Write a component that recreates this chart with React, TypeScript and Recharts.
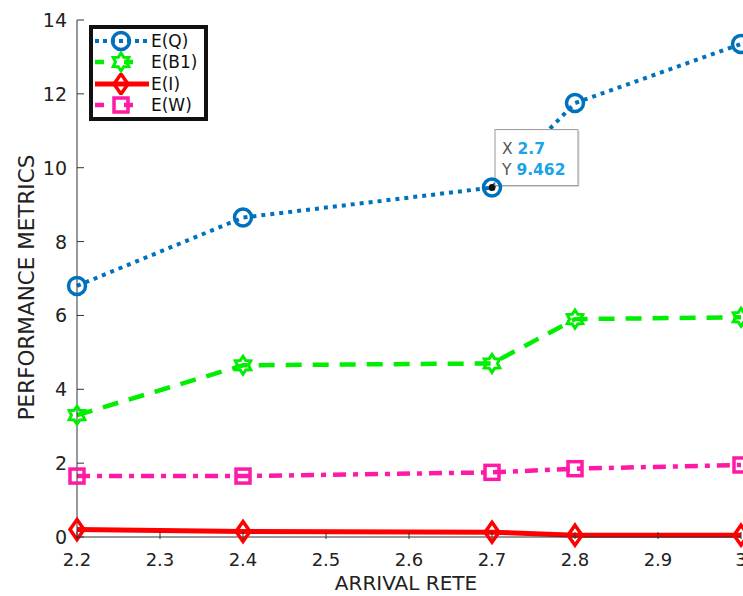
import React from "react";
import { LineChart, Line, XAxis, YAxis, Legend, ReferenceDot } from "recharts";

const xValues = [2.2, 2.4, 2.7, 2.8, 3.0];
const eQ = [6.8, 8.65, 9.462, 11.75, 13.35];
const eB1 = [3.3, 4.65, 4.7, 5.9, 5.95];
const eI = [0.2, 0.15, 0.13, 0.05, 0.05];
const eW = [1.65, 1.65, 1.75, 1.85, 1.95];
const xTicks = [2.2, 2.3, 2.4, 2.5, 2.6, 2.7, 2.8, 2.9, 3.0];
const yTicks = [0, 2, 4, 6, 8, 10, 12, 14];
const tipX = 2.7;
const tipY = 9.462;
const xTitle = "ARRIVAL RETE";
const yTitle = "PERFORMANCE METRICS";

const data = xValues.map((x, i) => ({ x, q: eQ[i], b1: eB1[i], i: eI[i], w: eW[i] }));

const FONT = "DejaVu Sans";
const BLUE = "#0072BD";
const GREEN = "#00EE00";
const RED = "#FF0000";
const PINK = "#FF1AA6";

type MarkerKind = "circle" | "hex" | "diamond" | "square";

function Marker({ kind, cx, cy, color }: { kind: MarkerKind; cx: number; cy: number; color: string }) {
  if (cx == null || cy == null) return null;
  const sw = 3.5;
  if (kind === "circle") return <circle cx={cx} cy={cy} r={8.5} fill="none" stroke={color} strokeWidth={sw} />;
  if (kind === "diamond") {
    const d = `M${cx},${cy - 10} L${cx + 7},${cy} L${cx},${cy + 10} L${cx - 7},${cy} Z`;
    return <path d={d} fill="none" stroke={color} strokeWidth={sw} />;
  }
  if (kind === "square") return <rect x={cx - 7} y={cy - 7} width={14} height={14} fill="none" stroke={color} strokeWidth={sw} />;
  const pts: string[] = [];
  for (let k = 0; k < 12; k++) {
    const ang = (Math.PI / 6) * k - Math.PI / 2;
    const r = k % 2 === 0 ? 9 : 5.5;
    pts.push(`${cx + r * Math.cos(ang)},${cy + r * Math.sin(ang)}`);
  }
  return <polygon points={pts.join(" ")} fill="none" stroke={color} strokeWidth={3} />;
}

const series = [
  { key: "q", name: "E(Q)", color: BLUE, dash: "4 5", kind: "circle" as MarkerKind, width: 4 },
  { key: "b1", name: "E(B1)", color: GREEN, dash: "16 11", kind: "hex" as MarkerKind, width: 4.5 },
  { key: "i", name: "E(I)", color: RED, dash: undefined, kind: "diamond" as MarkerKind, width: 5 },
  { key: "w", name: "E(W)", color: PINK, dash: "13 7 5 7", kind: "square" as MarkerKind, width: 4.5 },
];

function LegendBox() {
  return (
    <div
      style={{
        border: "4px solid #111",
        background: "#fff",
        width: 119,
        padding: "1px 0 1px 0",
        fontFamily: FONT,
        fontSize: 17,
        color: "#111",
        boxSizing: "border-box",
      }}
    >
      {series.map((s) => (
        <div key={s.key} style={{ display: "flex", alignItems: "center", height: 21.5 }}>
          <svg width={58} height={22} style={{ flex: "none" }}>
            <line x1={2} x2={56} y1={11} y2={11} stroke={s.color} strokeWidth={s.width} strokeDasharray={s.dash ? (s.kind === "circle" ? "4 4" : "9 20") : undefined} />
            <Marker kind={s.kind} cx={28} cy={11} color={s.color} />
          </svg>
          <span style={{ marginLeft: 0 }}>{s.name}</span>
        </div>
      ))}
    </div>
  );
}

function YTick(props: any) {
  const { x, y, payload } = props;
  const px = x + 10;
  return (
    <g>
      <line x1={px} x2={px + 7} y1={y} y2={y} stroke="#333" strokeWidth={1} />
      <text x={x} y={y} dy={7} textAnchor="end" fontFamily={FONT} fontSize={19} fill="#222">
        {payload.value}
      </text>
    </g>
  );
}

function XTick(props: any) {
  const { x, y, payload } = props;
  const py = y - 8;
  const v = Number(payload.value);
  const label = Math.abs(v - Math.round(v)) < 1e-9 ? String(Math.round(v)) : v.toFixed(1);
  return (
    <g>
      <line x1={x} x2={x} y1={py} y2={py - 7} stroke="#333" strokeWidth={1} />
      <text x={x} y={y} dy={19} textAnchor="middle" fontFamily={FONT} fontSize={18} fill="#222">
        {label}
      </text>
    </g>
  );
}

function TopTick(props: any) {
  const { x, y } = props;
  return <line x1={x} x2={x} y1={y + 8} y2={y + 15} stroke="#333" strokeWidth={1} />;
}

function RightTick(props: any) {
  const { x, y } = props;
  return <line x1={x - 8} x2={x - 15} y1={y} y2={y} stroke="#333" strokeWidth={1} />;
}

function YTitle(props: any) {
  const vb = props.viewBox || {};
  const cx = (vb.x ?? 0) + 26;
  const cy = (vb.y ?? 0) + (vb.height ?? 0) / 2 + 9;
  return (
    <text x={cx} y={cy} transform={`rotate(-90 ${cx} ${cy})`} textAnchor="middle" dominantBaseline="central" fontFamily={FONT} fontSize={21.5} fill="#222">
      {yTitle}
    </text>
  );
}

function XTitle(props: any) {
  const vb = props.viewBox || {};
  const cx = (vb.x ?? 0) + (vb.width ?? 0) / 2 - 3;
  const cy = (vb.y ?? 0) + 53;
  return (
    <text x={cx} y={cy} textAnchor="middle" fontFamily={FONT} fontSize={20} fill="#222">
      {xTitle}
    </text>
  );
}

function TipShape(props: any) {
  const { cx, cy } = props;
  if (cx == null || cy == null) return null;
  const bx = cx + 3;
  const by = cy - 58;
  return (
    <g>
      <circle cx={cx} cy={cy} r={3.5} fill="#111" />
      <rect x={bx + 1.5} y={by + 1.5} width={83} height={56} fill="#ddd" />
      <rect x={bx} y={by} width={83} height={56} fill="#fff" stroke="#999" strokeWidth={1} />
      <text x={bx + 7} y={by + 24} fontFamily={FONT} fontSize={15.5}>
        <tspan fill="#555">X </tspan>
        <tspan fill="#1AA3E8" fontWeight="bold">{String(tipX)}</tspan>
      </text>
      <text x={bx + 7} y={by + 45} fontFamily={FONT} fontSize={15.5}>
        <tspan fill="#555">Y </tspan>
        <tspan fill="#1AA3E8" fontWeight="bold">{String(tipY)}</tspan>
      </text>
    </g>
  );
}

export default function App() {
  return (
    <div style={{ position: "absolute", left: 0, top: 0, width: 743, height: 596, background: "#fff" }}>
      <LineChart width={743} height={596} data={data} margin={{ top: 20, right: 2, bottom: 0, left: 0 }}>
        <XAxis
          xAxisId="bottom"
          dataKey="x"
          type="number"
          domain={[2.2, 3]}
          ticks={xTicks}
          height={59}
          tickSize={8}
          tickLine={false}
          tick={<XTick />}
          axisLine={{ stroke: "#333" }}
          interval={0}
          label={<XTitle />}
        />
        <XAxis
          xAxisId="top"
          orientation="top"
          dataKey="x"
          type="number"
          domain={[2.2, 3]}
          ticks={xTicks}
          height={0}
          tickSize={8}
          tickLine={false}
          tick={<TopTick />}
          axisLine={{ stroke: "#333" }}
          interval={0}
        />
        <YAxis
          yAxisId="left"
          domain={[0, 14]}
          ticks={yTicks}
          width={77}
          tickSize={0}
          tickMargin={10}
          tickLine={false}
          tick={<YTick />}
          axisLine={{ stroke: "#333" }}
          interval={0}
          label={<YTitle />}
        />
        <YAxis
          yAxisId="right"
          orientation="right"
          domain={[0, 14]}
          ticks={yTicks}
          width={0}
          tickSize={8}
          tickLine={false}
          tick={<RightTick />}
          axisLine={{ stroke: "#333" }}
          interval={0}
        />
        <Legend
          layout="horizontal"
          verticalAlign="middle"
          align="center"
          content={() => <LegendBox />}
          wrapperStyle={{ position: "absolute", left: 89, top: 25, width: 119 }}
        />
        {series.map((s) => (
          <Line
            key={s.key}
            xAxisId="bottom"
            yAxisId="left"
            dataKey={s.key}
            name={s.name}
            stroke={s.color}
            strokeWidth={s.width}
            strokeDasharray={s.dash}
            isAnimationActive={false}
            dot={(p: any) => <Marker key={`${s.key}-${p.index}`} kind={s.kind} cx={p.cx} cy={p.cy} color={s.color} />}
            activeDot={false}
          />
        ))}
        <ReferenceDot xAxisId="bottom" yAxisId="left" x={tipX} y={tipY} r={3} shape={<TipShape />} />
      </LineChart>
    </div>
  );
}
